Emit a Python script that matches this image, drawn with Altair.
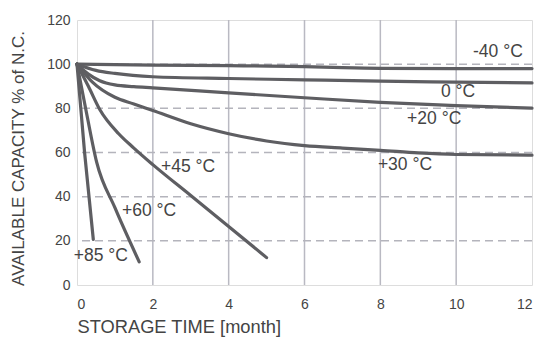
import altair as alt
import pandas as pd

# ---- data ----
series_names = ["-40", "0", "+20", "+30", "+45", "+60", "+85"]

m_n40 = [0, 2, 4, 6, 7, 8, 10, 12]
v_n40 = [100, 99.6, 99.3, 98.9, 98.4, 98.1, 98.0, 98.0]

m_0 = [0, 0.5, 1, 2, 4, 6, 8, 10, 12]
v_0 = [100, 97.2, 95.8, 94.3, 93.5, 92.9, 92.3, 91.9, 91.5]

m_20 = [0, 0.3, 0.6, 1, 1.5, 2, 4, 6, 8, 10, 12]
v_20 = [100, 95.5, 92.5, 90.6, 89.8, 89.3, 87.0, 84.8, 82.7, 81.2, 80.1]

m_30 = [0, 0.4, 1, 1.5, 2, 3, 4, 5, 6, 7, 8, 9, 10, 12]
v_30 = [100, 92, 85, 82, 79, 73, 68.5, 65.2, 63.1, 62, 61, 59.8, 59.1, 58.8]

m_45 = [0, 0.3, 0.6, 1.1, 1.5, 2, 3, 4, 5]
v_45 = [100, 90, 79.5, 68.5, 62, 54.5, 40.5, 26.5, 12.4]

m_60 = [0, 0.25, 0.52, 1.0, 1.64]
v_60 = [100, 78, 55.5, 35, 10.5]

m_85 = [0, 0.2, 0.43]
v_85 = [100, 60, 20.6]

label_text = ["-40 °C", "0 °C", "+20 °C", "+30 °C", "+45 °C", "+60 °C", "+85 °C"]
label_x = [11.1, 10.05, 9.42, 8.65, 2.93, 1.9, 0.63]
label_y = [105.5, 87.3, 75.0, 54.3, 53.4, 33.5, 13.0]

x_ticks = [0, 2, 4, 6, 8, 10, 12]
y_ticks = [0, 20, 40, 60, 80, 100, 120]

# ---- build tables ----
months = [m_n40, m_0, m_20, m_30, m_45, m_60, m_85]
values = [v_n40, v_0, v_20, v_30, v_45, v_60, v_85]
rows = []
for name, ms, vs in zip(series_names, months, values):
    for i, (m, v) in enumerate(zip(ms, vs)):
        rows.append({"series": name, "month": m, "cap": v, "order": i})
df = pd.DataFrame(rows)
labels = pd.DataFrame({"text": label_text, "month": label_x, "cap": label_y})

FONT = "Liberation Sans"
xs = alt.Scale(domain=[0, 12], nice=False, zero=False)
ys = alt.Scale(domain=[0, 120], nice=False)

vgrid = pd.DataFrame({"month": [2, 4, 6, 8, 10]})
hgrid = pd.DataFrame({"cap": [20, 40, 60, 80, 100]})

vlines = alt.Chart(vgrid).mark_rule(color="#b9b9c2", strokeWidth=1.5).encode(
    x=alt.X("month:Q", scale=xs)
)
hlines = alt.Chart(hgrid).mark_rule(color="#b4b4bc", strokeWidth=1.5, strokeDash=[8, 5]).encode(
    y=alt.Y("cap:Q", scale=ys)
)

lines = alt.Chart(df).mark_line(
    color="#5e5e62", strokeWidth=3.2, interpolate="monotone", strokeCap="round", strokeJoin="round"
).encode(
    x=alt.X(
        "month:Q",
        scale=xs,
        axis=alt.Axis(
            values=x_ticks,
            title="STORAGE TIME [month]",
            grid=False,
            domain=False,
            ticks=False,
            labelPadding=12,
            labelFontSize=14,
            labelColor="#444444",
            labelFont=FONT,
            titleFont=FONT,
            titleFontSize=18.3,
            titleFontWeight="normal",
            titleColor="#444444",
            titleAnchor="start",
            titleAlign="left",
            titleBaseline="middle",
            titleX=0,
            titleY=42,
        ),
    ),
    y=alt.Y(
        "cap:Q",
        scale=ys,
        axis=alt.Axis(
            values=y_ticks,
            title="AVAILABLE CAPACITY % of N.C.",
            grid=False,
            domain=False,
            ticks=False,
            labelPadding=7,
            labelFontSize=14,
            labelColor="#444444",
            labelFont=FONT,
            titleFont=FONT,
            titleFontSize=17,
            titleFontWeight="normal",
            titleColor="#444444",
            titleAngle=270,
            titleAlign="center",
            titleBaseline="middle",
            titleX=-59,
            titleY=138,
        ),
    ),
    detail="series:N",
    order="order:Q",
)

texts = alt.Chart(labels).mark_text(
    font=FONT, fontSize=17.5, color="#444444", align="center", baseline="middle"
).encode(
    x=alt.X("month:Q", scale=xs),
    y=alt.Y("cap:Q", scale=ys),
    text="text:N",
)

chart = (
    alt.layer(vlines, hlines, lines, texts)
    .properties(
        width=455,
        height=265,
        autosize=alt.AutoSizeParams(type="none"),
        padding={"left": 69, "top": 12, "right": 7, "bottom": 52},
    )
    .configure_view(fill="#fdf5e1", stroke=None)
    .configure(background="white")
)

chart.save("out.html", embed_options={"renderer": "svg", "actions": False})
